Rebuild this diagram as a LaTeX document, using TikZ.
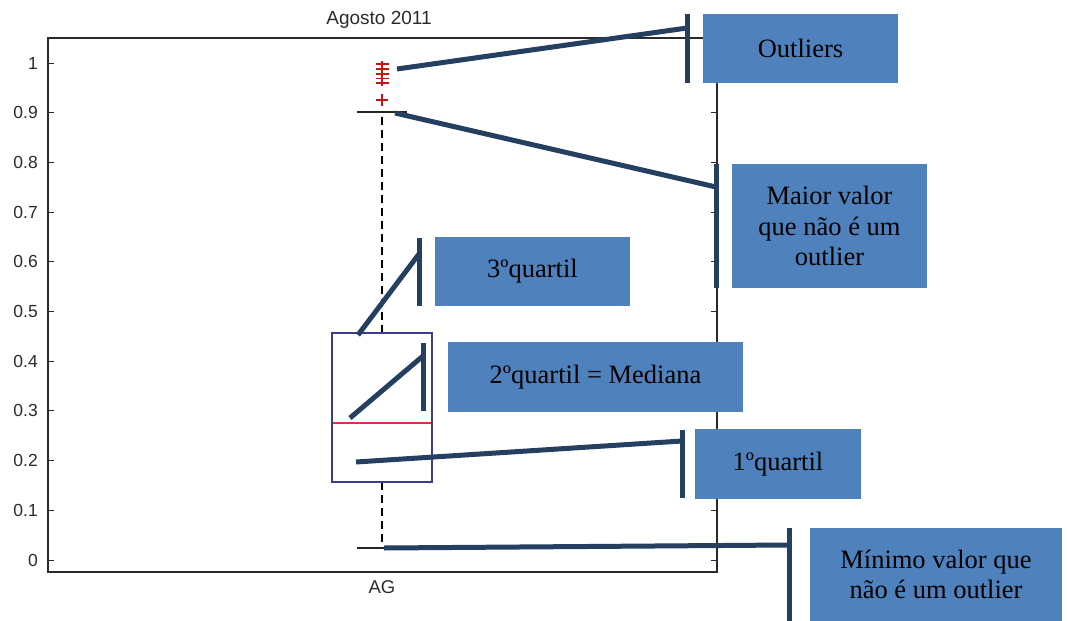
\documentclass[tikz,border=0pt]{standalone}
\usepackage{fontspec}
\setmainfont{Liberation Serif}
\setsansfont{Liberation Sans}
\definecolor{calloutfill}{HTML}{4F81BD}
\definecolor{calloutline}{HTML}{243F60}
\definecolor{boxline}{HTML}{3C3C8C}
\definecolor{medianred}{HTML}{DD2F4A}
\definecolor{outred}{HTML}{CC1111}
\definecolor{axisgray}{HTML}{2A2A2A}
\tikzset{
  callout/.style={fill=calloutfill, draw=none, inner sep=0pt, align=center,
    font=\fontsize{26.5}{30.5}\selectfont, text=black},
  leader/.style={draw=calloutline, line width=5pt},
  leaderbar/.style={draw=calloutline, line width=5pt},
  axislabel/.style={font=\fontsize{17.5}{19}\sffamily, text=axisgray, inner sep=0pt},
  frameline/.style={draw=axisgray, line width=1.2pt},
  tickline/.style={draw=axisgray, line width=1pt},
  whisker/.style={draw=black, line width=1.3pt, dash pattern=on 8pt off 5pt},
  whiskercap/.style={draw=black!85, line width=1.2pt},
  outmark/.style={draw=outred, line width=1.2pt},
}
\begin{document}
\begin{tikzpicture}[x=1pt,y=-1pt]
\useasboundingbox (0,0) rectangle (1069,621);
% title and axis frame
\node[axislabel, font=\fontsize{19}{21}\sffamily] (title) at (379,20) {Agosto 2011};
\draw[frameline] (48,38) rectangle (717,572);
\node[axislabel, font=\fontsize{18.5}{20}\sffamily] (xlab) at (382,587) {AG};
\foreach \lab [count=\i from 0] in {0,0.1,0.2,0.3,0.4,0.5,0.6,0.7,0.8,0.9,1}{
  \pgfmathsetmacro{\yy}{560-49.7*\i}
  \node[axislabel, anchor=east] (tick\i) at (38,\yy) {\lab};
  \draw[tickline] (48,\yy) -- (54,\yy);
  \draw[tickline] (717,\yy) -- (711,\yy);
}
% boxplot
\draw[whisker] (382,333) -- (382,112);
\draw[whisker] (382,482) -- (382,548);
\draw[whiskercap] (357,112) -- (407,112);
\draw[whiskercap] (357,548) -- (407,548);
\draw[draw=boxline, line width=1.2pt] (332,333) rectangle (432,482);
\draw[draw=medianred, line width=1.3pt] (333,423) -- (431,423);
% outliers
\draw[outmark] (382,61) -- (382,86);
\foreach \oy in {64,69,74,78.5,83}{
  \draw[outmark] (375.5,\oy) -- (388.5,\oy);
}
\draw[outmark] (376,100) -- (388,100) (382,94) -- (382,106);
% callout boxes
\node[callout, minimum width=195pt, minimum height=69pt] (outl) at (800.5,48.5) {Outliers};
\node[callout, minimum width=195pt, minimum height=124pt] (maior) at (829.5,226) {Maior valor\\que não é um\\outlier};
\node[callout, minimum width=195pt, minimum height=69pt] (q3) at (532.5,271.5) {3ºquartil};
\node[callout, minimum width=295pt, minimum height=70pt] (q2) at (595.5,377) {2ºquartil = Mediana};
\node[callout, minimum width=166pt, minimum height=70pt] (q1) at (778,464) {1ºquartil};
\node[callout, minimum width=252pt, minimum height=93pt] (minv) at (936,574.5) {Mínimo valor que\\não é um outlier};
% leader end points
\coordinate (pOut) at (397,69);
\coordinate (bOut) at (687,28);
\coordinate (bOutT) at (687,14);
\coordinate (bOutB) at (687,83);
\coordinate (pMax) at (395,113);
\coordinate (bMax) at (716,187);
\coordinate (bMaxT) at (716,164);
\coordinate (bMaxB) at (716,288);
\coordinate (pQ3) at (358,335);
\coordinate (bQ3) at (419,254);
\coordinate (bQ3T) at (419,238);
\coordinate (bQ3B) at (419,306);
\coordinate (pQ2) at (350,418);
\coordinate (bQ2) at (423,356);
\coordinate (bQ2T) at (423,343);
\coordinate (bQ2B) at (423,411);
\coordinate (pQ1) at (356,462);
\coordinate (bQ1) at (682,441);
\coordinate (bQ1T) at (682,430);
\coordinate (bQ1B) at (682,498);
\coordinate (pMin) at (384,548);
\coordinate (bMin) at (789,545);
\coordinate (bMinT) at (789,528);
\coordinate (bMinB) at (789,621);
% leaders
\draw[leader] (pOut) -- (bOut);
\draw[leaderbar] (bOutT) -- (bOutB);
\draw[leader] (pMax) -- (bMax);
\draw[leaderbar] (bMaxT) -- (bMaxB);
\draw[leader] (pQ3) -- (bQ3);
\draw[leaderbar] (bQ3T) -- (bQ3B);
\draw[leader] (pQ2) -- (bQ2);
\draw[leaderbar] (bQ2T) -- (bQ2B);
\draw[leader] (pQ1) -- (bQ1);
\draw[leaderbar] (bQ1T) -- (bQ1B);
\draw[leader] (pMin) -- (bMin);
\draw[leaderbar] (bMinT) -- (bMinB);
\end{tikzpicture}
\end{document}
